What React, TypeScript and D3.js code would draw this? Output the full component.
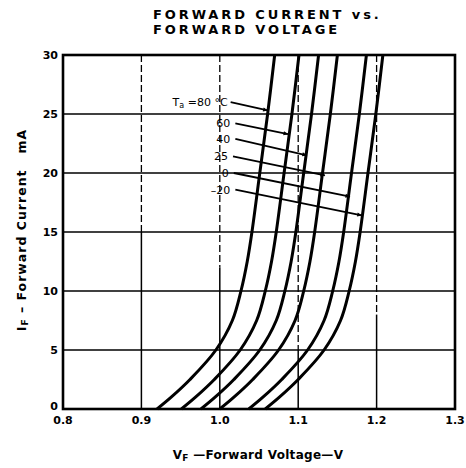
import React from "react";
import * as d3 from "d3";

// forward current (mA) sample points, shared by every curve
const currents = [0, 1, 2.5, 5, 7.5, 10, 12.5, 15, 20, 25, 30];

// forward voltage (V) at each current, one array per ambient temperature
const v80 = [0.92, 0.938, 0.962, 0.995, 1.016, 1.027, 1.035, 1.041, 1.051, 1.061, 1.07];
const v60 = [0.951, 0.969, 0.993, 1.026, 1.047, 1.058, 1.066, 1.072, 1.082, 1.092, 1.101];
const v40 = [0.976, 0.994, 1.018, 1.051, 1.072, 1.083, 1.091, 1.097, 1.107, 1.117, 1.126];
const v25 = [1.0, 1.018, 1.042, 1.075, 1.096, 1.107, 1.115, 1.121, 1.131, 1.141, 1.15];
const v0 = [1.037, 1.055, 1.079, 1.112, 1.133, 1.144, 1.152, 1.158, 1.168, 1.178, 1.187];
const vm20 = [1.058, 1.076, 1.1, 1.133, 1.154, 1.165, 1.173, 1.179, 1.189, 1.199, 1.208];

const seriesList = [v80, v60, v40, v25, v0, vm20];

const xTicks = [0.8, 0.9, 1.0, 1.1, 1.2, 1.3];
const xTickLabels = ["0.8", "0.9", "1.0", "1.1", "1.2", "1.3"];
const yTicks = [0, 5, 10, 15, 20, 25, 30];

// temperature labels and their arrows, in data units [V, mA]
const tempLabels = ["80", "60", "40", "25", "0", "\u201320"];
const labelAt = [
  [1.01, 26.0],
  [1.016, 24.2],
  [1.016, 22.9],
  [1.013, 21.4],
  [1.014, 20.0],
  [1.016, 18.6],
];
const arrowTo = [
  [1.061, 25.3],
  [1.087, 23.3],
  [1.111, 21.5],
  [1.134, 19.8],
  [1.166, 18.0],
  [1.181, 16.4],
];

const W = 466;
const H = 468;
const margin = { top: 55, right: 11, bottom: 59, left: 63 };
const innerW = W - margin.left - margin.right;
const innerH = H - margin.top - margin.bottom;

const font = "'DejaVu Sans', Arial, sans-serif";

export default function App() {
  const x = d3.scaleLinear().domain([0.8, 1.3]).range([0, innerW]);
  const y = d3.scaleLinear().domain([0, 30]).range([innerH, 0]);

  const line = d3
    .line<[number, number]>()
    .x((d) => x(d[0]))
    .y((d) => y(d[1]))
    .curve(d3.curveCatmullRom.alpha(0.5));

  return (
    <svg
      width={W}
      height={H}
      style={{ position: "absolute", left: 0, top: 0, background: "#fff" }}
    >
      <defs>
        <marker
          id="arr"
          viewBox="0 0 10 10"
          refX="9"
          refY="5"
          markerWidth="8"
          markerHeight="5"
          orient="auto"
          markerUnits="userSpaceOnUse"
        >
          <path d="M0,1 L10,5 L0,9 Z" fill="#000" />
        </marker>
      </defs>

      {/* title */}
      <g
        fontFamily={font}
        fontWeight="bold"
        fontSize={13}
        letterSpacing={2.9}
        textAnchor="start"
      >
        <text x={153} y={19}>FORWARD CURRENT vs.</text>
        <text x={153} y={34}>FORWARD VOLTAGE</text>
      </g>

      <g transform={`translate(${margin.left},${margin.top})`}>
        {/* horizontal grid */}
        {yTicks.map((t) => (
          <line
            key={"h" + t}
            x1={0}
            x2={innerW}
            y1={y(t)}
            y2={y(t)}
            stroke="#000"
            strokeWidth={1.6}
          />
        ))}
        {/* vertical grid: dashed in upper part, solid lower */}
        {xTicks.slice(1, -1).map((t, i) => {
          const split = [15, 12, 5, 8][i];
          return (
            <g key={"v" + t}>
              <line
                x1={x(t)}
                x2={x(t)}
                y1={0}
                y2={y(split)}
                stroke="#000"
                strokeWidth={1.3}
                strokeDasharray="7,3"
              />
              <line
                x1={x(t)}
                x2={x(t)}
                y1={y(split)}
                y2={innerH}
                stroke="#000"
                strokeWidth={1.5}
              />
            </g>
          );
        })}

        {/* curves */}
        {seriesList.map((vs, i) => (
          <path
            key={"c" + i}
            d={line(vs.map((v, j) => [v, currents[j]] as [number, number])) || ""}
            fill="none"
            stroke="#000"
            strokeWidth={3}
          />
        ))}

        {/* frame */}
        <rect
          x={0}
          y={0}
          width={innerW}
          height={innerH}
          fill="none"
          stroke="#000"
          strokeWidth={2.6}
        />

        {/* temperature labels */}
        <g fontFamily={font} fontSize={11} fill="#000">
          {tempLabels.map((lab, i) => (
            <g key={"t" + i}>
              <line
                x1={x(labelAt[i][0]) + 3}
                y1={y(labelAt[i][1])}
                x2={x(arrowTo[i][0])}
                y2={y(arrowTo[i][1])}
                stroke="#000"
                strokeWidth={1.8}
                markerEnd="url(#arr)"
              />
              {i === 0 ? (
                <text
                  x={x(labelAt[i][0])}
                  y={y(labelAt[i][1]) + 4}
                  textAnchor="end"
                >
                  T<tspan fontSize={8} dy={2}>a</tspan>
                  <tspan dy={-2}> =80 °C</tspan>
                </text>
              ) : (
                <text
                  x={x(labelAt[i][0]) - 2}
                  y={y(labelAt[i][1]) + 4}
                  textAnchor="end"
                >
                  {lab}
                </text>
              )}
            </g>
          ))}
        </g>

        {/* y tick labels */}
        <g fontFamily={font} fontSize={11} fontWeight="bold" textAnchor="end">
          {yTicks.map((t) => (
            <text key={"yl" + t} x={-5} y={y(t) + (t === 0 ? 1 : 4)}>
              {t}
            </text>
          ))}
        </g>

        {/* x tick labels */}
        <g fontFamily={font} fontSize={11} fontWeight="bold" textAnchor="middle">
          {xTicks.map((t, i) => (
            <text key={"xl" + t} x={x(t)} y={innerH + 15}>
              {xTickLabels[i]}
            </text>
          ))}
        </g>

        {/* axis titles */}
        <text
          x={innerW / 2 - 1}
          y={innerH + 50}
          textAnchor="middle"
          fontFamily={font}
          fontSize={12}
          fontWeight="bold"
          letterSpacing={0.3}
          style={{ whiteSpace: "pre" }}
        >
          V<tspan fontSize={9} dy={2}>F</tspan>
          <tspan dy={-2}> —Forward Voltage—V</tspan>
        </text>
        <text
          transform={`translate(${-37},${innerH / 2 - 2}) rotate(-90)`}
          textAnchor="middle"
          fontFamily={font}
          fontSize={12.5}
          fontWeight="bold"
          letterSpacing={1}
          style={{ whiteSpace: "pre" }}
        >
          I<tspan fontSize={9} dy={2}>F</tspan>
          <tspan dy={-2}> – Forward Current   mA</tspan>
        </text>
      </g>
    </svg>
  );
}
